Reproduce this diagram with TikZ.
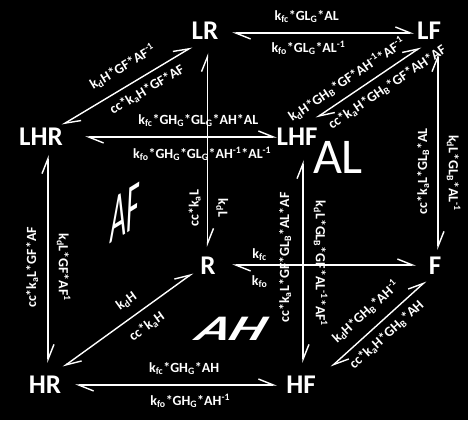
\documentclass[tikz,border=0pt]{standalone}
\usepackage{fontspec}
\setmainfont{Carlito}
\usetikzlibrary{arrows.meta,calc}
\tikzstyle{rxn} = [<->, >={Straight Barb[left,length=15pt,width=12pt]}, draw=white, line width=1.4pt]
\tikzstyle{state} = [text=white, font=\bfseries\fontsize{27}{30}\selectfont, inner sep=0pt]
\tikzstyle{lbl} = [text=white, font=\bfseries\fontsize{14}{16}\selectfont, inner xsep=0pt, inner ysep=8pt]
\tikzstyle{vup} = [lbl, anchor=south, rotate=90]
\tikzstyle{vdn} = [lbl, anchor=south, rotate=-90]
\newcommand{\subs}[1]{\textsubscript{#1}}
\newcommand{\sups}[1]{\textsuperscript{#1}}

\begin{document}
\begin{tikzpicture}[x=1pt, y=1pt]
	\useasboundingbox (0,0) rectangle (468,420);
	\fill[black] (0,0) rectangle (468,420);
	% Place nodes
	\node (LR) [state] at (205,389) {LR};
	\node (LF) [state] at (429,389) {LF};
	\node (LHR) [state] at (41,283) {LHR};
	\node (LHF) [state] at (297,283) {LHF};
	\node (R) [state] at (208,154) {R};
	\node (F) [state] at (435,154) {F};
	\node (HR) [state] at (45,35) {HR};
	\node (HF) [state] at (301,35) {HF};
	
	% faces
	\node (bigAL) [text=white, font=\fontsize{50}{50}\selectfont] at (338,263) {AL};
	\begin{scope}[shift={(125,207)}, yslant=0.62, xscale=0.55, yscale=1.35]
		\node (bigAF) [transform shape, text=white, font=\itshape\fontsize{50}{50}\selectfont] at (0,0) {AF};
	\end{scope}
	\begin{scope}[shift={(232,91)}, xslant=0.4, xscale=1.5]
		\node (bigAH) [transform shape, text=white, font=\bfseries\itshape\fontsize{36}{36}\selectfont] at (0,0) {AH};
	\end{scope}
	
	% top face
	\draw[rxn] ($(LR)+(27,-2)$) -- ($(LF)+(-15,-2)$)
		node[lbl, above, pos=0.41, inner ysep=10pt] {k\subs{fc}*GL\subs{G}*AL}
		node[lbl, below, pos=0.42, inner ysep=7pt] {k\subs{fo}*GL\subs{G}*AL\sups{-1}};
	\draw[rxn] ($(LHR)+(44,0)$) -- ($(LHF)+(-20,0)$)
		node[lbl, above, pos=0.59, inner ysep=10pt] {k\subs{fc}*GH\subs{G}*GL\subs{G}*AH*AL}
		node[lbl, below, pos=0.61, inner ysep=9pt] {k\subs{fo}*GH\subs{G}*GL\subs{G}*AH\sups{-1}*AL\sups{-1}};
	\draw[rxn] ($(LHR)+(21,12)$) -- ($(LR)+(-13,-16)$)
		node[lbl, sloped, above, pos=0.54, inner ysep=11pt] {k\subs{d}H*GF*AF\sups{-1}}
		node[lbl, sloped, below, pos=0.60, inner ysep=7pt] {cc*k\subs{a}H*GF*AF};
	\draw[rxn] ($(LHF)+(19,19)$) -- ($(LF)+(-8,-16)$)
		node[lbl, sloped, above, pos=0.37, inner ysep=7pt] {k\subs{d}H*GH\subs{B}*GF*AH\sups{-1}*AF\sups{-1}}
		node[lbl, sloped, below, pos=0.60] {cc*k\subs{a}H*GH\subs{B}*GF*AH*AF};
	
	% bottom face
	\draw[rxn] ($(R)+(24,1)$) -- ($(F)+(-19,1)$)
		node[lbl, above, pos=0.15, inner ysep=4pt] {k\subs{fc}}
		node[lbl, below, pos=0.15, inner ysep=10pt] {k\subs{fo}};
	\draw[rxn] ($(HR)+(30,0)$) -- ($(HF)+(-24,0)$)
		node[lbl, above, pos=0.54, inner ysep=10pt] {k\subs{fc}*GH\subs{G}*AH}
		node[lbl, below, pos=0.57] {k\subs{fo}*GH\subs{G}*AH\sups{-1}};
	\draw[rxn] ($(HR)+(18,18)$) -- ($(R)+(-15,-7)$)
		node[lbl, sloped, above, pos=0.56, inner ysep=9pt] {k\subs{d}H}
		node[lbl, sloped, below, pos=0.57, inner ysep=10pt] {cc*k\subs{a}H};
	\draw[rxn] ($(HF)+(30,18)$) -- ($(F)+(-9,-15)$)
		node[lbl, sloped, above, pos=0.49, inner ysep=10pt] {k\subs{d}H*GH\subs{B}*AH\sups{-1}}
		node[lbl, sloped, below, pos=0.49, inner ysep=7pt] {cc*k\subs{a}H*GH\subs{B}*AH};
	
	% verticals
	\draw[rxn] ($(LHR)+(7,-18)$) -- ($(HR)+(3,22)$)
		node[vup, pos=0.54, inner ysep=9pt] {cc*k\subs{a}L*GF*AF}
		node[vdn, pos=0.54] {k\subs{d}L*GF*AF\sups{1}};
	\draw[rxn] ($(LR)+(2.5,-22)$) -- ($(R)+(-0.5,19)$)
		node[vup, pos=0.80, inner ysep=6pt] {cc*k\subs{a}L}
		node[vdn, pos=0.80] {k\subs{d}L};
	\draw[rxn] ($(LHF)+(6,-23)$) -- ($(HF)+(2,22)$)
		node[vup, pos=0.48, inner ysep=11pt] {cc*k\subs{a}L*GF*GL\subs{B}*AL*AF}
		node[vdn, pos=0.51, inner ysep=10pt] {k\subs{d}L*GL\subs{B}*GF*AL\sups{-1}*AF\sups{1}};
	\draw[rxn] ($(LF)+(9,-22)$) -- ($(F)+(3,16)$)
		node[vup, pos=0.60] {cc*k\subs{a}L*GL\subs{B}*AL}
		node[vdn, pos=0.61] {k\subs{d}L*GL\subs{B}*AL\sups{-1}};
\end{tikzpicture}
\end{document}
